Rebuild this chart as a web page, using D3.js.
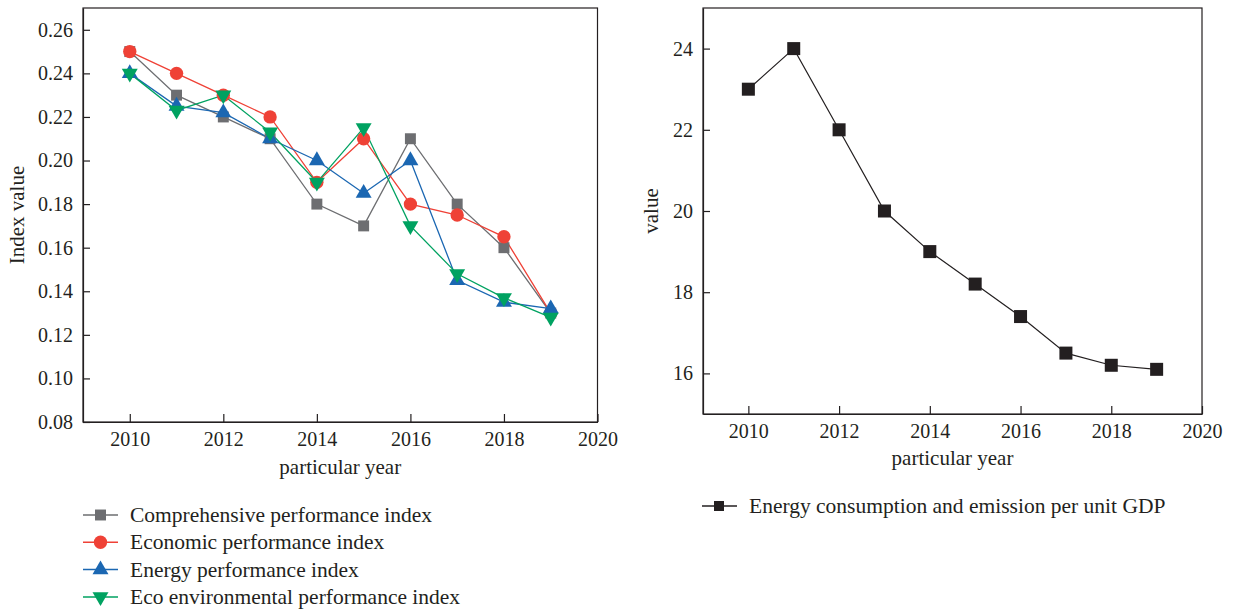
<!DOCTYPE html>
<html>
<head>
<meta charset="utf-8">
<script src="https://cdn.jsdelivr.net/npm/d3@7"></script>
<style>
  body { margin: 0; background: #fff; }
  svg text { font-family: "Liberation Serif", "DejaVu Serif", serif; fill: #231f20; }
</style>
</head>
<body>
<div id="chart"></div>
<script>
// data
var years = [2010, 2011, 2012, 2013, 2014, 2015, 2016, 2017, 2018, 2019];
var comprehensive = [0.25, 0.23, 0.22, 0.21, 0.18, 0.17, 0.21, 0.18, 0.16, 0.13];
var economic = [0.25, 0.24, 0.23, 0.22, 0.19, 0.21, 0.18, 0.175, 0.165, 0.13];
var energy = [0.24, 0.225, 0.222, 0.21, 0.20, 0.185, 0.20, 0.145, 0.135, 0.132];
var ecoEnv = [0.24, 0.223, 0.23, 0.213, 0.19, 0.215, 0.17, 0.148, 0.137, 0.128];
var emission = [23, 24, 22, 20, 19, 18.2, 17.4, 16.5, 16.2, 16.1];

var seriesNames = ["Comprehensive performance index", "Economic performance index",
  "Energy performance index", "Eco environmental performance index"];
var emissionName = "Energy consumption and emission per unit GDP";

var xTicks = [2010, 2012, 2014, 2016, 2018, 2020];
var leftYTicks = [0.08, 0.10, 0.12, 0.14, 0.16, 0.18, 0.20, 0.22, 0.24, 0.26];
var rightYTicks = [16, 18, 20, 22, 24];

var svgWidth = 1237;
var svgHeight = 612;
var ink = "#231f20";

var svg = d3.select("#chart")
  .append("svg")
  .attr("width", svgWidth)
  .attr("height", svgHeight);

var leftSeries = [
  { name: seriesNames[0], values: comprehensive, color: "#6d6e71", symbol: d3.symbolSquare, size: 120, rot: 0 },
  { name: seriesNames[1], values: economic, color: "#ef4136", symbol: d3.symbolCircle, size: 140, rot: 0 },
  { name: seriesNames[2], values: energy, color: "#1b67b2", symbol: d3.symbolTriangle, size: 110, rot: 0 },
  { name: seriesNames[3], values: ecoEnv, color: "#00a261", symbol: d3.symbolTriangle, size: 110, rot: 180 }
];

// draws a boxed panel with inward ticks
function drawPanel(box, yDomain, yTickVals, yFormat, yTitle, xTitleY, yTitleX) {
  var x = d3.scaleLinear().domain([2009, 2020]).range([box.left, box.right]);
  var y = d3.scaleLinear().domain(yDomain).range([box.bottom, box.top]);

  var g = svg.append("g");

  g.append("rect")
    .attr("x", box.left)
    .attr("y", box.top)
    .attr("width", box.right - box.left)
    .attr("height", box.bottom - box.top)
    .attr("fill", "none")
    .attr("stroke", ink)
    .attr("stroke-width", 1.2);

  var xAxis = d3.axisBottom(x).tickValues(xTicks).tickFormat(d3.format("d"))
    .tickSizeInner(-8).tickSizeOuter(0).tickPadding(10);
  var gx = g.append("g")
    .attr("transform", `translate(0, ${box.bottom})`)
    .call(xAxis);

  var yAxis = d3.axisLeft(y).tickValues(yTickVals).tickFormat(yFormat)
    .tickSizeInner(-7).tickSizeOuter(0).tickPadding(10);
  var gy = g.append("g")
    .attr("transform", `translate(${box.left}, 0)`)
    .call(yAxis);

  [gx, gy].forEach(function(a) {
    a.select(".domain").attr("stroke", ink).attr("stroke-width", 1.2);
    a.selectAll(".tick line").attr("stroke", ink).attr("stroke-width", 1.2);
    a.selectAll(".tick text").attr("font-size", "20px").attr("fill", ink)
      .attr("font-family", "Liberation Serif, serif");
  });

  g.append("text")
    .attr("text-anchor", "middle")
    .attr("x", (box.left + box.right) / 2)
    .attr("y", xTitleY)
    .attr("font-size", "21px")
    .text("particular year");

  g.append("text")
    .attr("transform", "rotate(-90)")
    .attr("text-anchor", "middle")
    .attr("x", -(box.top + box.bottom) / 2)
    .attr("y", yTitleX)
    .attr("font-size", "21px")
    .text(yTitle);

  return { x: x, y: y, g: g };
}

// left panel
var left = drawPanel({ left: 83, right: 597.5, top: 8, bottom: 422 }, [0.08, 0.27],
  leftYTicks, d3.format(".2f"), "Index value", 474, 24);

leftSeries.forEach(function(s) {
  var pts = years.map(function(yr, i) { return [left.x(yr), left.y(s.values[i])]; });
  left.g.append("path")
    .attr("d", d3.line()(pts))
    .attr("fill", "none")
    .attr("stroke", s.color)
    .attr("stroke-width", 1.3);
});

leftSeries.forEach(function(s) {
  var sym = d3.symbol().type(s.symbol).size(s.size);
  left.g.selectAll(null)
    .data(years.map(function(yr, i) { return { yr: yr, v: s.values[i] }; }))
    .enter()
    .append("path")
    .attr("d", sym)
    .attr("transform", d => `translate(${left.x(d.yr)}, ${left.y(d.v)}) rotate(${s.rot})`)
    .attr("fill", s.color);
});

// left legend
var legendTop = 515;
var legendStep = 27.3;
leftSeries.forEach(function(s, i) {
  var ly = legendTop + i * legendStep;
  var lg = svg.append("g");
  lg.append("line")
    .attr("x1", 83).attr("x2", 118)
    .attr("y1", ly).attr("y2", ly)
    .attr("stroke", s.color)
    .attr("stroke-width", 1.5);
  lg.append("path")
    .attr("d", d3.symbol().type(s.symbol).size(s.size)())
    .attr("transform", `translate(100.5, ${ly}) rotate(${s.rot})`)
    .attr("fill", s.color);
  lg.append("text")
    .attr("x", 130)
    .attr("y", ly)
    .attr("dy", "0.33em")
    .attr("font-size", "21.5px")
    .text(s.name);
});

// right panel
var right = drawPanel({ left: 703, right: 1202, top: 8, bottom: 414 }, [15, 25],
  rightYTicks, d3.format("d"), "value", 465, 658);

var rightPts = years.map(function(yr, i) { return [right.x(yr), right.y(emission[i])]; });
right.g.append("path")
  .attr("d", d3.line()(rightPts))
  .attr("fill", "none")
  .attr("stroke", ink)
  .attr("stroke-width", 1.2);

right.g.selectAll(null)
  .data(years.map(function(yr, i) { return { yr: yr, v: emission[i] }; }))
  .enter()
  .append("rect")
  .attr("x", d => right.x(d.yr) - 6.5)
  .attr("y", d => right.y(d.v) - 6.5)
  .attr("width", 13)
  .attr("height", 13)
  .attr("fill", ink);

// right legend
var rl = svg.append("g");
rl.append("line")
  .attr("x1", 702).attr("x2", 737)
  .attr("y1", 506).attr("y2", 506)
  .attr("stroke", ink)
  .attr("stroke-width", 1.3);
rl.append("rect")
  .attr("x", 714).attr("y", 501)
  .attr("width", 10).attr("height", 10)
  .attr("fill", ink);
rl.append("text")
  .attr("x", 749)
  .attr("y", 506)
  .attr("dy", "0.33em")
  .attr("font-size", "21.5px")
  .text(emissionName);
</script>
</body>
</html>
